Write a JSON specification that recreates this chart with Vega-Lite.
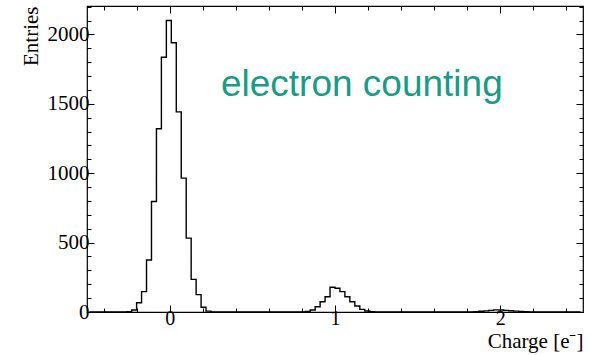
{
  "$schema": "https://vega.github.io/schema/vega-lite/v6.json",
  "width": 496,
  "height": 306,
  "autosize": "none",
  "padding": {"left": 87, "top": 6, "right": 6, "bottom": 43},
  "background": "white",
  "config": {
    "view": {"stroke": "#000", "strokeWidth": 1.2},
    "axis": {
      "domain": false, "grid": false,
      "labelFont": "Liberation Serif", "titleFont": "Liberation Serif",
      "labelFontSize": 21, "titleFontSize": 21,
      "labelColor": "#000", "titleColor": "#000", "tickColor": "#000",
      "tickWidth": 1, "titleFontWeight": "normal"
    }
  },
  "data": {"values": [
    {"charge": -0.485, "entries": 0}, {"charge": -0.455, "entries": 0}, {"charge": -0.425, "entries": 0}, {"charge": -0.395, "entries": 0},
    {"charge": -0.365, "entries": 0}, {"charge": -0.335, "entries": 0}, {"charge": -0.305, "entries": 0}, {"charge": -0.275, "entries": 1},
    {"charge": -0.245, "entries": 3}, {"charge": -0.215, "entries": 14}, {"charge": -0.185, "entries": 67}, {"charge": -0.155, "entries": 147},
    {"charge": -0.125, "entries": 375}, {"charge": -0.095, "entries": 796}, {"charge": -0.065, "entries": 1321}, {"charge": -0.035, "entries": 1836},
    {"charge": -0.005, "entries": 2101}, {"charge": 0.025, "entries": 1940}, {"charge": 0.055, "entries": 1442}, {"charge": 0.085, "entries": 965},
    {"charge": 0.115, "entries": 532}, {"charge": 0.145, "entries": 235}, {"charge": 0.175, "entries": 125}, {"charge": 0.205, "entries": 34},
    {"charge": 0.235, "entries": 6}, {"charge": 0.265, "entries": 1}, {"charge": 0.295, "entries": 0}, {"charge": 0.325, "entries": 0},
    {"charge": 0.355, "entries": 0}, {"charge": 0.385, "entries": 0}, {"charge": 0.415, "entries": 0}, {"charge": 0.445, "entries": 0},
    {"charge": 0.475, "entries": 0}, {"charge": 0.505, "entries": 0}, {"charge": 0.535, "entries": 0}, {"charge": 0.565, "entries": 0},
    {"charge": 0.595, "entries": 0}, {"charge": 0.625, "entries": 0}, {"charge": 0.655, "entries": 0}, {"charge": 0.685, "entries": 0},
    {"charge": 0.715, "entries": 0}, {"charge": 0.745, "entries": 0}, {"charge": 0.775, "entries": 0}, {"charge": 0.805, "entries": 1},
    {"charge": 0.835, "entries": 4}, {"charge": 0.865, "entries": 14}, {"charge": 0.895, "entries": 38}, {"charge": 0.925, "entries": 74},
    {"charge": 0.955, "entries": 110}, {"charge": 0.985, "entries": 178}, {"charge": 1.015, "entries": 171}, {"charge": 1.045, "entries": 147},
    {"charge": 1.075, "entries": 110}, {"charge": 1.105, "entries": 74}, {"charge": 1.135, "entries": 43}, {"charge": 1.165, "entries": 19},
    {"charge": 1.195, "entries": 7}, {"charge": 1.225, "entries": 2}, {"charge": 1.255, "entries": 0}, {"charge": 1.285, "entries": 0},
    {"charge": 1.315, "entries": 0}, {"charge": 1.345, "entries": 0}, {"charge": 1.375, "entries": 0}, {"charge": 1.405, "entries": 0},
    {"charge": 1.435, "entries": 0}, {"charge": 1.465, "entries": 0}, {"charge": 1.495, "entries": 0}, {"charge": 1.525, "entries": 0},
    {"charge": 1.555, "entries": 0}, {"charge": 1.585, "entries": 0}, {"charge": 1.615, "entries": 0}, {"charge": 1.645, "entries": 0},
    {"charge": 1.675, "entries": 0}, {"charge": 1.705, "entries": 0}, {"charge": 1.735, "entries": 0}, {"charge": 1.765, "entries": 0},
    {"charge": 1.795, "entries": 0}, {"charge": 1.825, "entries": 0}, {"charge": 1.855, "entries": 2}, {"charge": 1.885, "entries": 5},
    {"charge": 1.915, "entries": 8}, {"charge": 1.945, "entries": 12}, {"charge": 1.975, "entries": 15}, {"charge": 2.005, "entries": 14},
    {"charge": 2.035, "entries": 12}, {"charge": 2.065, "entries": 9}, {"charge": 2.095, "entries": 6}, {"charge": 2.125, "entries": 4},
    {"charge": 2.155, "entries": 2}, {"charge": 2.185, "entries": 1}, {"charge": 2.215, "entries": 0}, {"charge": 2.245, "entries": 0},
    {"charge": 2.275, "entries": 0}, {"charge": 2.305, "entries": 0}, {"charge": 2.335, "entries": 0}, {"charge": 2.365, "entries": 0},
    {"charge": 2.395, "entries": 0}, {"charge": 2.425, "entries": 0}, {"charge": 2.455, "entries": 0}, {"charge": 2.485, "entries": 0}
  ]},
  "layer": [
    {
      "mark": {"type": "line", "interpolate": "step", "color": "#000", "strokeWidth": 1.4},
      "encoding": {
        "x": {"field": "charge", "type": "quantitative",
          "scale": {"domain": [-0.5, 2.5], "nice": false, "zero": false},
          "axis": {"orient": "bottom", "values": [0, 1, 2], "format": "d", "tickSize": -7, "labelPadding": 3, "labelFontSize": 20,
            "title": "Charge [e⁻]", "titleAnchor": "end", "titlePadding": 2}},
        "y": {"field": "entries", "type": "quantitative",
          "scale": {"domain": [0, 2205], "nice": false},
          "axis": {"orient": "left", "values": [0, 500, 1000, 1500, 2000], "format": "d", "tickSize": -7, "labelPadding": 5,
            "title": "Entries", "titleAnchor": "end", "titlePadding": 6}}
      }
    },
    {
      "mark": {"type": "line", "opacity": 0},
      "encoding": {
        "x": {"field": "charge", "type": "quantitative",
          "axis": {"orient": "bottom", "values": [-0.4, -0.2, 0.2, 0.4, 0.6, 0.8, 1.2, 1.4, 1.6, 1.8, 2.2, 2.4], "tickSize": -4, "labels": false, "title": null}},
        "y": {"field": "entries", "type": "quantitative",
          "axis": {"orient": "left", "values": [100, 200, 300, 400, 600, 700, 800, 900, 1100, 1200, 1300, 1400, 1600, 1700, 1800, 1900, 2100, 2200], "tickSize": -4, "labels": false, "title": null}}
      }
    },
    {
      "mark": {"type": "line", "opacity": 0},
      "encoding": {
        "x": {"field": "charge", "type": "quantitative",
          "axis": {"orient": "top", "values": [0, 1, 2], "tickSize": -7, "labels": false, "title": null}},
        "y": {"field": "entries", "type": "quantitative",
          "axis": {"orient": "right", "values": [0, 500, 1000, 1500, 2000], "tickSize": -7, "labels": false, "title": null}}
      }
    },
    {
      "mark": {"type": "line", "opacity": 0},
      "encoding": {
        "x": {"field": "charge", "type": "quantitative",
          "axis": {"orient": "top", "values": [-0.4, -0.2, 0.2, 0.4, 0.6, 0.8, 1.2, 1.4, 1.6, 1.8, 2.2, 2.4], "tickSize": -4, "labels": false, "title": null}},
        "y": {"field": "entries", "type": "quantitative",
          "axis": {"orient": "right", "values": [100, 200, 300, 400, 600, 700, 800, 900, 1100, 1200, 1300, 1400, 1600, 1700, 1800, 1900, 2100, 2200], "tickSize": -4, "labels": false, "title": null}}
      }
    },
    {
      "data": {"values": [{"x": 0.31, "y": 1560, "label": "electron counting"}]},
      "mark": {"type": "text", "align": "left", "baseline": "alphabetic", "font": "Liberation Sans", "fontSize": 37, "color": "#1a9b85"},
      "encoding": {
        "x": {"field": "x", "type": "quantitative", "axis": null},
        "y": {"field": "y", "type": "quantitative", "axis": null},
        "text": {"field": "label"}
      }
    }
  ],
  "resolve": {"axis": {"x": "independent", "y": "independent"}}
}
